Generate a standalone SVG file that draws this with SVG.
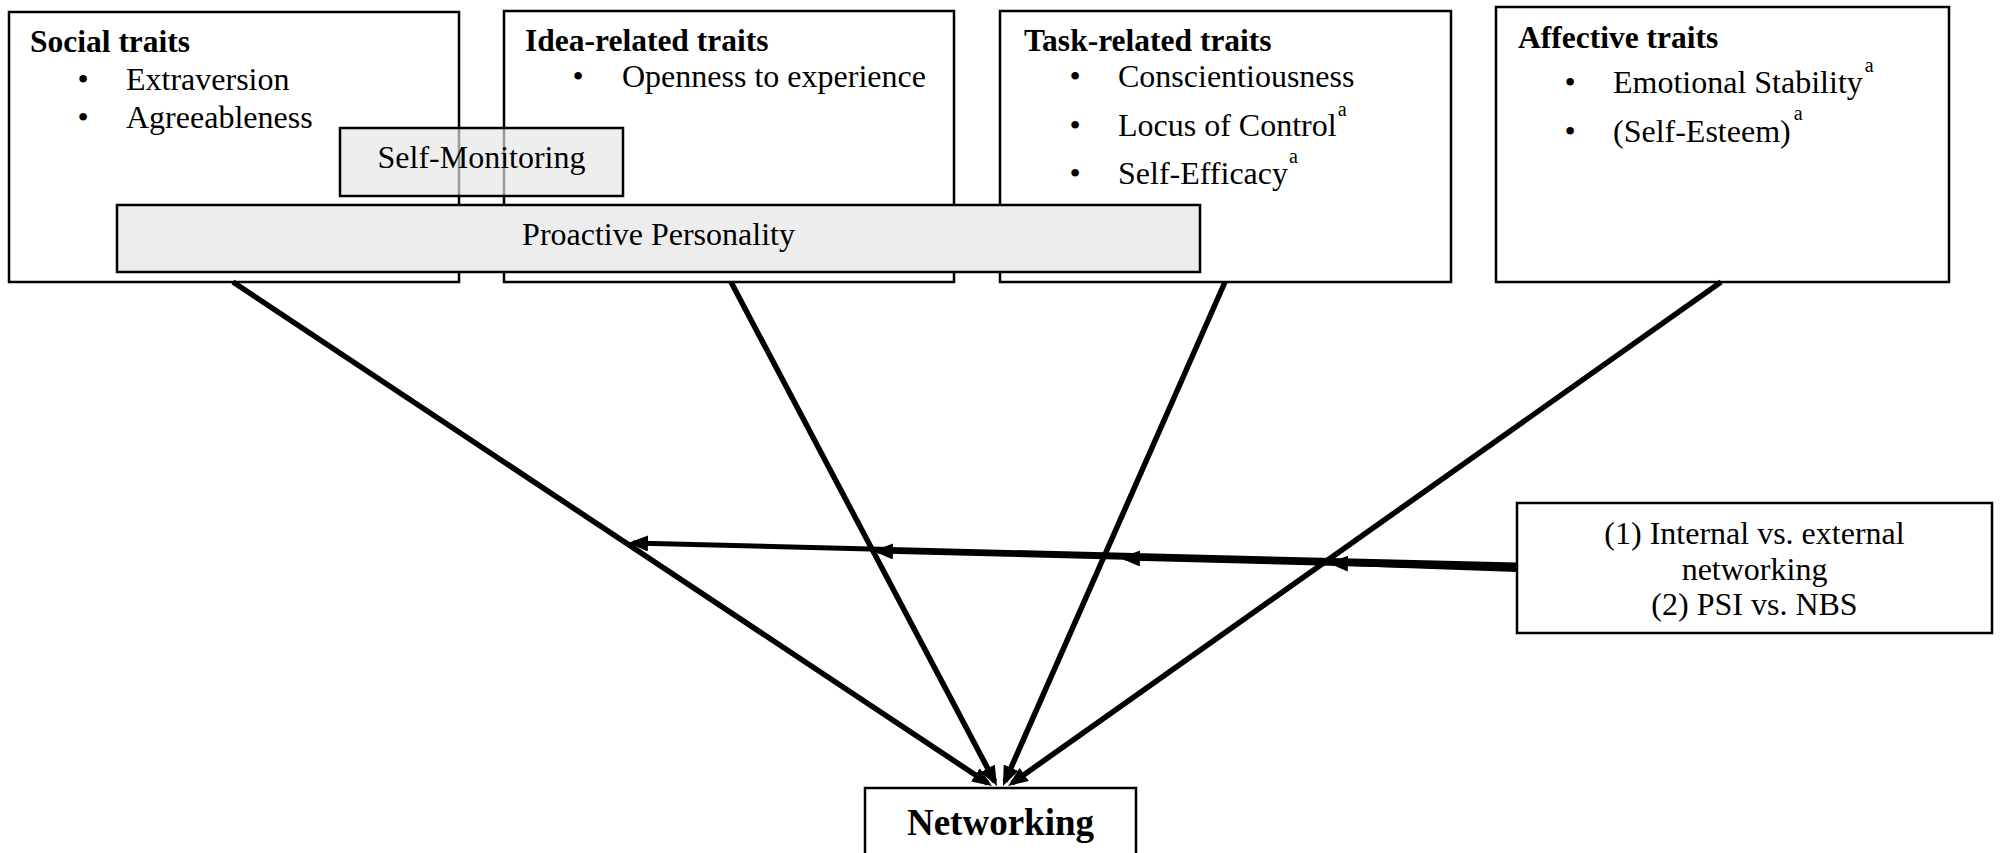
<svg xmlns="http://www.w3.org/2000/svg" width="2000" height="853" viewBox="0 0 2000 853">
<style>
text { font-family: "Liberation Serif", "Times New Roman", serif; fill: #000; }
.t { font-size: 31.5px; font-weight: bold; }
.b { font-size: 32px; }
.bul { font-size: 32px; text-anchor: middle; }
.sup { font-size: 20px; }
.c { text-anchor: middle; }
.box { fill: #fff; stroke: #000; stroke-width: 2.5; }
.gbox { fill: #ededed; stroke: #000; stroke-width: 2.5; }
.sbox { fill: #e5e5e5; fill-opacity: 0.67; stroke: #000; stroke-width: 2.5; }
.ln { stroke: #000; stroke-width: 5.5; fill: none; marker-end: url(#ah); }
.mln { stroke: #000; stroke-width: 5; fill: none; marker-end: url(#ah); }
</style>
<defs>
<marker id="ah" markerUnits="userSpaceOnUse" markerWidth="20" markerHeight="16" refX="15" refY="8" orient="auto">
<path d="M0,0 L20,8 L0,16 z" fill="#000"/>
</marker>
</defs>
<rect width="2000" height="853" fill="#fff"/>

<g id="social">
<rect class="box" x="9" y="12" width="450" height="270"/>
<text class="t" x="30" y="52">Social traits</text>
<text class="bul" x="83" y="90">•</text><text class="b" x="126" y="90">Extraversion</text>
<text class="bul" x="83" y="128">•</text><text class="b" x="126" y="128">Agreeableness</text>
</g>

<g id="idea">
<rect class="box" x="504" y="11" width="450" height="271"/>
<text class="t" x="525" y="51">Idea-related traits</text>
<text class="bul" x="578" y="87">•</text><text class="b" x="622" y="87">Openness to experience</text>
</g>

<g id="task">
<rect class="box" x="1000" y="11" width="451" height="271"/>
<text class="t" x="1024" y="51">Task-related traits</text>
<text class="bul" x="1075" y="87">•</text><text class="b" x="1118" y="87">Conscientiousness</text>
<text class="bul" x="1075" y="136">•</text><text class="b" x="1118" y="136">Locus of Control<tspan class="sup" dx="1" dy="-20">a</tspan></text>
<text class="bul" x="1075" y="184">•</text><text class="b" x="1118" y="184">Self-Efficacy<tspan class="sup" dx="1" dy="-21">a</tspan></text>
</g>

<g id="affective">
<rect class="box" x="1496" y="7" width="453" height="275"/>
<text class="t" x="1518" y="48">Affective traits</text>
<text class="bul" x="1570" y="93">•</text><text class="b" x="1613" y="93">Emotional Stability<tspan class="sup" dx="2" dy="-21">a</tspan></text>
<text class="bul" x="1570" y="142">•</text><text class="b" x="1613" y="142">(Self-Esteem)<tspan class="sup" dx="3" dy="-22">a</tspan></text>
</g>

<g id="proactive">
<rect class="gbox" x="117" y="205" width="1083" height="67"/>
<text class="b c" x="658.5" y="245">Proactive Personality</text>
</g>

<g id="selfmonitoring">
<rect class="sbox" x="340" y="128" width="283" height="68"/>
<text class="b c" x="481.5" y="168">Self-Monitoring</text>
</g>

<g id="networking">
<rect class="box" x="865" y="788" width="271" height="70"/>
<text class="t c" x="1000.5" y="835" style="font-size:37px">Networking</text>
</g>

<g id="moderator">
<rect class="box" x="1517" y="503" width="475" height="130"/>
<text class="b c" x="1754.5" y="544">(1) Internal vs. external</text>
<text class="b c" x="1754.5" y="580">networking</text>
<text class="b c" x="1754.5" y="615">(2) PSI vs. NBS</text>
</g>

<g id="connectors">
<line class="ln" x1="233" y1="282" x2="987.8" y2="783.2"/>
<line class="ln" x1="731" y1="282" x2="994.7" y2="781.6"/>
<line class="ln" x1="1225" y1="282" x2="1005" y2="781.4"/>
<line class="ln" x1="1721" y1="282" x2="1012.1" y2="783.1"/>
<line class="mln" x1="1517" y1="565" x2="633" y2="543.1"/>
<line class="mln" x1="1517" y1="567" x2="878" y2="551.1"/>
<line class="mln" x1="1517" y1="568" x2="1125" y2="558.1"/>
<line class="mln" x1="1517" y1="569.5" x2="1333" y2="563.1"/>
</g>
</svg>
